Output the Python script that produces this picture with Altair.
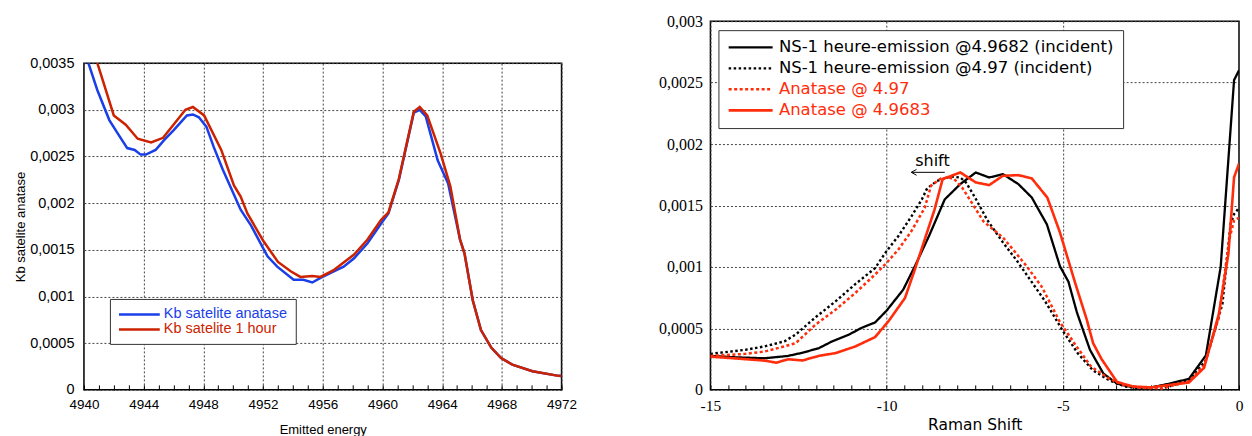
import altair as alt
import pandas as pd

# ---------------- Left panel data ----------------
left_series = ["Kb satelite anatase", "Kb satelite 1 hour"]
left_colors = ["#1a3ee8", "#cc2200"]

energy_anatase = [4940.0, 4940.3, 4940.9, 4941.7, 4942.25, 4942.9, 4943.4, 4943.8, 4944.15, 4944.8,
                  4945.4, 4946.0, 4946.9, 4947.3, 4947.7, 4948.2, 4948.7, 4949.3, 4949.8, 4950.5,
                  4951.2, 4951.7, 4952.3, 4952.95, 4954.05, 4954.7, 4955.3, 4955.85, 4956.5, 4957.4,
                  4958.1, 4959.0, 4959.9, 4960.4, 4961.1, 4962.1, 4962.5, 4962.9, 4963.7, 4964.4,
                  4965.2, 4965.5, 4966.05, 4966.6, 4967.3, 4967.95, 4968.7, 4970.05, 4971.8, 4972.0]
kb_anatase = [0.00366, 0.0035, 0.00321, 0.00289, 0.00275, 0.00259, 0.00257, 0.00252, 0.00252, 0.00257,
              0.00268, 0.00278, 0.00294, 0.00295, 0.00292, 0.00282, 0.0026, 0.00236, 0.00218, 0.00193,
              0.00176, 0.00161, 0.00143, 0.00132, 0.00118, 0.00118, 0.00115, 0.0012, 0.00125, 0.00132,
              0.00141, 0.00157, 0.00178, 0.00189, 0.00225, 0.00297, 0.00300, 0.00293, 0.00246, 0.00221,
              0.00161, 0.00146, 0.00096, 0.00064, 0.00045, 0.00034, 0.00027, 0.0002, 0.00015, 0.000148]

energy_1hour = [4940.0, 4940.9, 4942.0, 4942.8, 4943.6, 4944.5, 4945.3, 4946.0, 4946.8, 4947.3,
                4948.05, 4949.2, 4950.05, 4950.5, 4950.95, 4952.0, 4953.0, 4953.85, 4954.5, 4955.3,
                4955.85, 4956.7, 4958.1, 4959.0, 4959.9, 4960.4, 4961.1, 4962.1, 4962.5, 4963.0,
                4963.9, 4964.55, 4965.2, 4965.5, 4966.05, 4966.6, 4967.3, 4967.95, 4968.7, 4970.05,
                4971.8, 4972.0]
kb_1hour = [0.00395, 0.0035, 0.00294, 0.00284, 0.00269, 0.00265, 0.0027, 0.00284, 0.003, 0.00303,
            0.00294, 0.00257, 0.00219, 0.00207, 0.00189, 0.0016, 0.00137, 0.00127, 0.00121, 0.00122,
            0.00121, 0.00128, 0.00145, 0.00161, 0.00182, 0.0019, 0.00226, 0.00298, 0.00303, 0.00294,
            0.00253, 0.00218, 0.00161, 0.00146, 0.00096, 0.00064, 0.00045, 0.00034, 0.00027, 0.0002,
            0.00015, 0.000148]

left_x_ticks = list(range(4940, 4973))
left_y_ticks = [0, 0.0005, 0.001, 0.0015, 0.002, 0.0025, 0.003, 0.0035]

# ---------------- Right panel data ----------------
right_series = ["NS-1 heure-emission @4.9682 (incident)", "NS-1 heure-emission @4.97 (incident)",
                "Anatase @ 4.97", "Anatase @ 4.9683"]
right_colors = ["#000000", "#000000", "#ff2d0b", "#ff2d0b"]
right_dashes = [[1, 0], [2.5, 2.5], [3, 2.5], [1, 0]]
right_widths = [2.3, 2.6, 3.2, 2.6]

shift_ns_49682 = [-15, -14.3, -13.46, -12.8, -12.36, -11.92, -11.55, -11.08, -10.7, -10.33,
                  -10.0, -9.53, -9.2, -8.8, -8.35, -7.91, -7.47, -7.09, -6.7, -6.26,
                  -5.88, -5.45, -5.08, -4.84, -4.6, -4.23, -3.85, -3.46, -3.02, -2.5,
                  -1.98, -1.42, -0.94, -0.52, -0.14, 0]
val_ns_49682 = [0.000276, 0.000265, 0.000257, 0.000276, 0.000304, 0.00034, 0.000394, 0.000448, 0.000506, 0.000548,
                0.000645, 0.000815, 0.001005, 0.00125, 0.00155, 0.001674, 0.001769, 0.001728, 0.001755, 0.001674,
                0.001565, 0.001345, 0.001005, 0.00088, 0.00063, 0.000326, 0.000133, 0.00005, 0.000022, 0.00002,
                0.00005, 0.00009, 0.00028, 0.001, 0.00252, 0.0026]

shift_ns_497 = [-15, -14.0, -13.46, -12.9, -12.58, -12.02, -11.45, -10.89, -10.33, -10.0,
                -9.67, -9.3, -9.0, -8.85, -8.57, -8.19, -7.91, -7.75, -7.5, -7.14,
                -6.7, -6.3, -6.01, -5.5, -5.0, -4.58, -4.15, -3.68, -3.24, -2.8,
                -2.2, -1.42, -0.94, -0.47, -0.24, -0.14, 0]
val_ns_497 = [0.000293, 0.000326, 0.000354, 0.000395, 0.00045, 0.00059, 0.00072, 0.00086, 0.00099, 0.00113,
              0.00125, 0.00141, 0.00155, 0.00164, 0.0017, 0.001736, 0.001728, 0.001688, 0.00157, 0.00138,
              0.0012, 0.00105, 0.00093, 0.00072, 0.00048, 0.0003, 0.00016, 0.000077, 0.000028, 0.00001,
              0.00001, 0.000076, 0.00024, 0.0007, 0.00135, 0.00143, 0.00148]

shift_an_497 = [-15, -14.0, -13.46, -12.9, -12.58, -12.02, -11.45, -10.89, -10.33, -10.0,
                -9.67, -9.3, -8.92, -8.74, -8.46, -8.24, -8.08, -7.86, -7.6, -7.25,
                -6.87, -6.7, -6.35, -6.01, -5.6, -5.08, -4.61, -4.2, -3.68, -3.24,
                -2.8, -2.2, -1.42, -0.99, -0.57, -0.28, -0.14, 0]
val_an_497 = [0.000276, 0.000293, 0.000312, 0.000354, 0.00038, 0.00053, 0.000652, 0.000788, 0.000938, 0.001033,
              0.001141, 0.00129, 0.00148, 0.00166, 0.00172, 0.001728, 0.001715, 0.001647, 0.00153, 0.00137,
              0.00128, 0.00124, 0.00112, 0.001, 0.00084, 0.00055, 0.000353, 0.00019, 0.00009, 0.000036,
              0.000017, 0.00001, 0.00007, 0.0002, 0.00059, 0.00122, 0.00138, 0.0014]

shift_an_49683 = [-15, -14.34, -13.46, -13.13, -12.8, -12.39, -11.92, -11.45, -10.89, -10.33,
                  -9.95, -9.48, -9.2, -8.92, -8.64, -8.41, -7.91, -7.47, -7.09, -6.7,
                  -6.26, -5.88, -5.44, -5.08, -4.65, -4.32, -4.14, -3.9, -3.46, -3.02,
                  -2.5, -1.98, -1.42, -0.99, -0.57, -0.3, -0.14, 0]
val_an_49683 = [0.00027, 0.000257, 0.000238, 0.000221, 0.000249, 0.000239, 0.000277, 0.000299, 0.000353, 0.000429,
                0.000557, 0.000747, 0.000978, 0.001223, 0.001467, 0.001715, 0.001769, 0.001688, 0.001666, 0.001742,
                0.001747, 0.00172, 0.001565, 0.00128, 0.00087, 0.000571, 0.00038, 0.00025, 0.000064, 0.000028,
                0.00002, 0.00004, 0.00006, 0.00018, 0.00062, 0.00111, 0.00173, 0.00184]

right_x_ticks = [-15 + 0.5 * i for i in range(31)]
right_y_ticks = [0, 0.0005, 0.001, 0.0015, 0.002, 0.0025, 0.003]

shift_label = ["shift"]
shift_label_x = [-8.7]
shift_label_y = [0.00182]
arrow_start_x = [-8.35]
arrow_end_x = [-9.3]
arrow_y = [0.00177]

# ---------------- Build tables ----------------
left_df = pd.concat([
    pd.DataFrame({"energy": energy_anatase, "value": kb_anatase, "kb_series": left_series[0]}),
    pd.DataFrame({"energy": energy_1hour, "value": kb_1hour, "kb_series": left_series[1]}),
])

right_df = pd.concat([
    pd.DataFrame({"shift": shift_ns_49682, "intensity": val_ns_49682, "raman_series": right_series[0]}),
    pd.DataFrame({"shift": shift_ns_497, "intensity": val_ns_497, "raman_series": right_series[1]}),
    pd.DataFrame({"shift": shift_an_497, "intensity": val_an_497, "raman_series": right_series[2]}),
    pd.DataFrame({"shift": shift_an_49683, "intensity": val_an_49683, "raman_series": right_series[3]}),
])

comma_fmt = "replace(toString(datum.value), '.', ',')"
grid_style = dict(grid=True, gridColor="#444444", gridDash=[2, 2], gridWidth=1)

# ---------------- Left chart ----------------
left_legend = alt.Legend(
    title=None, orient="none", legendX=26, legendY=278, direction="vertical",
    symbolType="M-3.4,0L3.4,0", symbolSize=144, symbolStrokeWidth=2.5, symbolOffset=14,
    labelFont="Liberation Sans", labelFontSize=14.5, labelLimit=0, labelOffset=17,
    labelColor={"expr": "datum.value == 'Kb satelite anatase' ? '#1a3ee8' : '#cc2200'"},
    strokeColor="#333333", fillColor="white", padding=8, rowPadding=0,
)

left = alt.Chart(left_df).mark_line(strokeWidth=2.5, clip=True).encode(
    x=alt.X("energy:Q",
            scale=alt.Scale(domain=[4940, 4972], nice=False, zero=False),
            axis=alt.Axis(title="Emitted energy", values=left_x_ticks, tickCount=100, format="d",
                          labelExpr="datum.value % 4 == 0 ? datum.label : ''",
                          gridOpacity={"condition": {"test": "datum.value % 4 == 0", "value": 1}, "value": 0},
                          tickSize={"expr": "-5"}, tickColor="black",
                          labelFont="Liberation Sans", labelFontSize=13.5, labelPadding=13,
                          titleFont="Liberation Sans", titleFontSize=13, titleFontWeight="normal",
                          titlePadding=12, labelFlush=False, labelOverlap=False, domain=False,
                          **grid_style)),
    y=alt.Y("value:Q",
            scale=alt.Scale(domain=[0, 0.0035], nice=False),
            axis=alt.Axis(title="Kb satelite anatase", values=left_y_ticks, labelExpr=comma_fmt,
                          ticks=False, labelPadding=10,
                          labelFont="Liberation Sans", labelFontSize=14.5,
                          titleFont="Liberation Sans", titleFontSize=13, titleFontWeight="normal",
                          titlePadding=2, labelFlush=False, labelOverlap=False, domain=False,
                          **grid_style)),
    color=alt.Color("kb_series:N", scale=alt.Scale(domain=left_series, range=left_colors), legend=left_legend),
).properties(width=478, height=327)

spacer = alt.Chart(pd.DataFrame({"sx": [0], "sy": [0]})).mark_point(opacity=0).encode(
    x=alt.X("sx:Q", axis=None), y=alt.Y("sy:Q", axis=None)
).properties(width=478, height=32, view=alt.ViewBackground(stroke="transparent"))

left_col = alt.vconcat(spacer, left, spacing=0).resolve_scale(x="independent", y="independent")

# ---------------- Right chart ----------------
def right_legend():
    return alt.Legend(
        title=None, orient="none", legendX=8, legendY=9, direction="vertical",
        symbolType="M-3.5,0L3.5,0", symbolSize=158, symbolStrokeWidth=2.5, symbolOffset=15,
        labelFont="DejaVu Sans", labelFontSize=16.5, labelLimit=0, labelOffset=20,
        labelColor={"expr": "indexof(datum.value, 'Anatase') >= 0 ? '#ff2d0b' : '#000000'"},
        strokeColor="#333333", fillColor="white", padding=9, rowPadding=4,
    )

x_right = alt.X("shift:Q",
                scale=alt.Scale(domain=[-15, 0], nice=False, zero=False),
                axis=alt.Axis(title="Raman Shift", values=right_x_ticks, tickCount=100,
                              labelExpr="abs(datum.value % 5) < 0.001 ? toString(datum.value) : ''",
                              gridOpacity={"condition": {"test": "abs(datum.value % 5) < 0.001", "value": 1}, "value": 0},
                              tickSize={"expr": "-5"}, tickColor="black",
                              labelFont="Liberation Serif", labelFontSize=15.5, labelPadding=14,
                              titleFont="DejaVu Sans", titleFontSize=15.5, titleFontWeight="normal",
                              titlePadding=3, labelFlush=False, labelOverlap=False, domain=False,
                              **grid_style))
y_right = alt.Y("intensity:Q",
                scale=alt.Scale(domain=[0, 0.003], nice=False),
                axis=alt.Axis(title=None, values=right_y_ticks, tickCount=100, labelExpr=comma_fmt,
                              ticks=False, labelPadding=8,
                              labelFont="Liberation Serif", labelFontSize=16,
                              labelFlush=False, labelOverlap=False, domain=False,
                              **grid_style))

lines_r = alt.Chart(right_df).mark_line(clip=True).encode(
    x=x_right,
    y=y_right,
    color=alt.Color("raman_series:N", scale=alt.Scale(domain=right_series, range=right_colors), legend=right_legend()),
    strokeDash=alt.StrokeDash("raman_series:N", scale=alt.Scale(domain=right_series, range=right_dashes), legend=right_legend()),
    strokeWidth=alt.StrokeWidth("raman_series:N", scale=alt.Scale(domain=right_series, range=right_widths), legend=None),
)

shift_text = alt.Chart(pd.DataFrame({"shift": shift_label_x, "intensity": shift_label_y, "t": shift_label})).mark_text(
    font="DejaVu Sans", fontSize=16, baseline="alphabetic", color="black"
).encode(x="shift:Q", y="intensity:Q", text="t:N")

arrow_line = alt.Chart(pd.DataFrame({"shift": arrow_start_x, "shift2": arrow_end_x, "intensity": arrow_y})).mark_rule(
    color="black", strokeWidth=1
).encode(x="shift:Q", x2="shift2:Q", y="intensity:Q")

arrow_head = alt.Chart(pd.DataFrame({"shift": arrow_end_x, "intensity": arrow_y})).mark_point(
    shape="M0,0L1,-0.55M0,0L1,0.55", size=110, filled=False, color="black", strokeWidth=1, opacity=1
).encode(x="shift:Q", y="intensity:Q")

right = alt.layer(lines_r, shift_text, arrow_line, arrow_head).properties(width=529, height=369)

chart = alt.hconcat(left_col, right, spacing=80).resolve_scale(
    x="independent", y="independent", color="independent", strokeDash="independent", strokeWidth="independent"
).resolve_legend(color="independent", strokeDash="independent").properties(
    padding={"left": 5, "top": 4, "right": 0, "bottom": 0}
).configure_view(stroke="black", strokeWidth=1.5).configure_axis(labelOverlap=False)

chart.save("out.html", embed_options={"renderer": "svg", "actions": False})
